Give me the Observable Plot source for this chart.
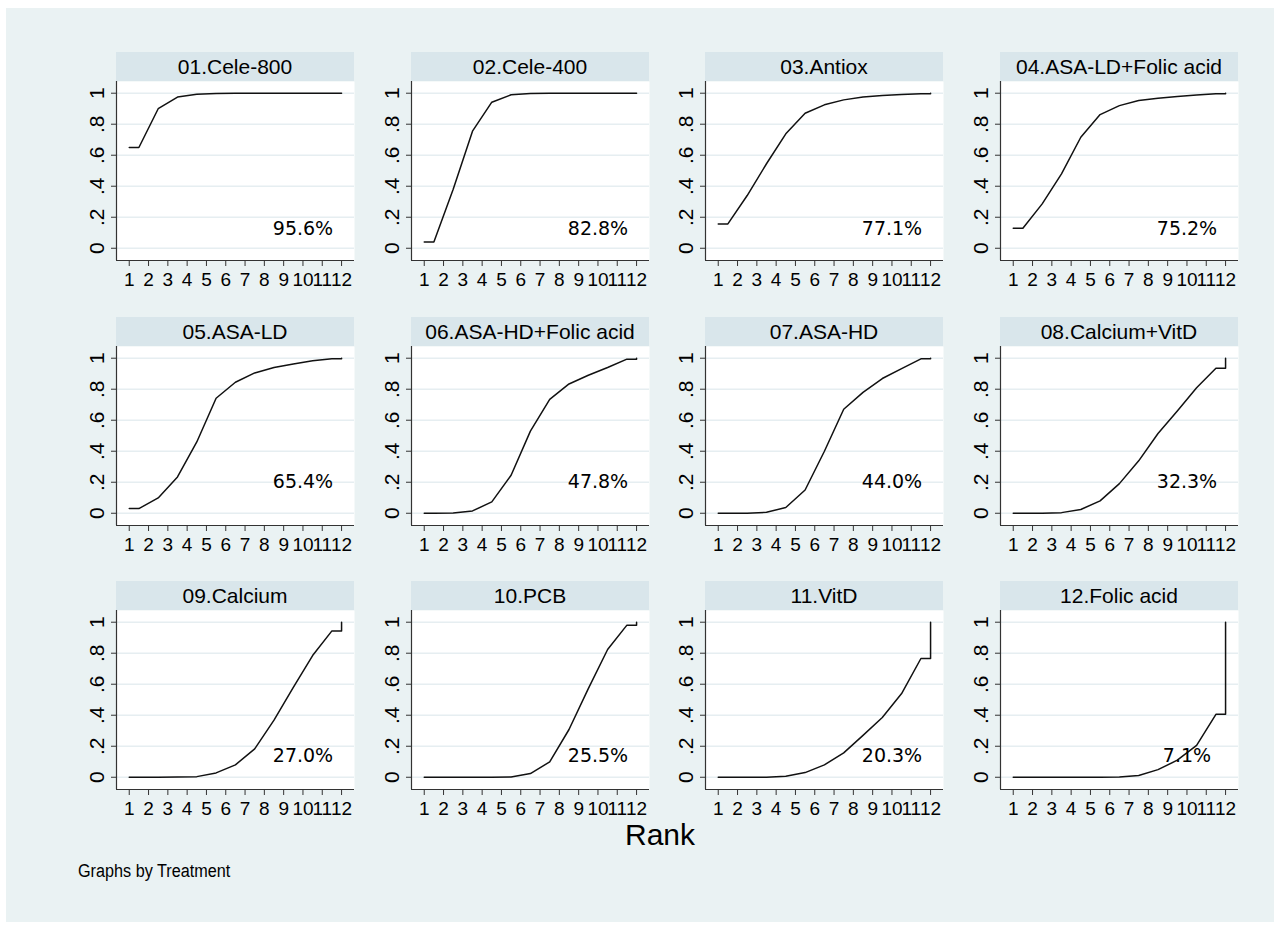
<!DOCTYPE html>
<html>
<head>
<meta charset="utf-8">
<script src="https://cdn.jsdelivr.net/npm/d3@7"></script>
<script src="https://cdn.jsdelivr.net/npm/@observablehq/plot@0.6"></script>
<style>
html, body { margin: 0; padding: 0; background: #ffffff; }
#root { position: relative; width: 1280px; height: 931px; overflow: hidden; font-family: "Liberation Sans", Arial, sans-serif; color: #000; }
#bg { position: absolute; left: 6px; top: 8px; width: 1268px; height: 914px; background: #eaf2f3; }
.strip { position: absolute; height: 29px; background: #d9e6eb; font-size: 21px; line-height: 29px; text-align: center; white-space: nowrap; }
.panel { position: absolute; }
#xlabel { position: absolute; left: 560px; width: 200px; top: 820px; text-align: center; font-size: 30px; line-height: 30px; }
#note { position: absolute; left: 78px; top: 860px; font-size: 18px; line-height: 22px; white-space: nowrap; transform: scaleX(0.9); transform-origin: left center; }
</style>
</head>
<body>
<div id="root"><div id="bg"></div></div>
<script>
// ---- data ----
const treatments = ["01.Cele-800", "02.Cele-400", "03.Antiox", "04.ASA-LD+Folic acid",
  "05.ASA-LD", "06.ASA-HD+Folic acid", "07.ASA-HD", "08.Calcium+VitD",
  "09.Calcium", "10.PCB", "11.VitD", "12.Folic acid"];
const sucra = [95.6, 82.8, 77.1, 75.2, 65.4, 47.8, 44.0, 32.3, 27.0, 25.5, 20.3, 7.1];
const ranks = [1, 2, 3, 4, 5, 6, 7, 8, 9, 10, 11, 12];
const yTicks = [0, 0.2, 0.4, 0.6, 0.8, 1];
// cumulative probability of being ranked within the first k (k = 1..12)
const cumCele800     = [0.65, 0.90, 0.975, 0.993, 0.998, 1, 1, 1, 1, 1, 1, 1];
const cumCele400     = [0.04, 0.38, 0.755, 0.942, 0.99, 0.998, 1, 1, 1, 1, 1, 1];
const cumAntiox      = [0.157, 0.34, 0.545, 0.738, 0.871, 0.925, 0.957, 0.975, 0.985, 0.992, 0.997, 1];
const cumAsaLdFolic  = [0.129, 0.286, 0.48, 0.716, 0.862, 0.92, 0.953, 0.968, 0.978, 0.988, 0.997, 1];
const cumAsaLd       = [0.03, 0.099, 0.234, 0.46, 0.742, 0.845, 0.905, 0.94, 0.963, 0.983, 0.996, 1];
const cumAsaHdFolic  = [0, 0.002, 0.015, 0.073, 0.245, 0.53, 0.735, 0.834, 0.89, 0.94, 0.994, 1];
const cumAsaHd       = [0, 0, 0.006, 0.037, 0.15, 0.40, 0.671, 0.78, 0.869, 0.933, 0.996, 1];
const cumCalciumVitD = [0, 0, 0.004, 0.024, 0.08, 0.191, 0.338, 0.514, 0.66, 0.81, 0.935, 1];
const cumCalcium     = [0, 0, 0.001, 0.004, 0.028, 0.08, 0.183, 0.368, 0.58, 0.785, 0.944, 1];
const cumPcb         = [0, 0, 0, 0, 0.002, 0.024, 0.099, 0.308, 0.572, 0.824, 0.981, 1];
const cumVitD        = [0, 0, 0, 0.006, 0.03, 0.08, 0.157, 0.27, 0.385, 0.54, 0.766, 1];
const cumFolic       = [0, 0, 0, 0, 0, 0.001, 0.011, 0.049, 0.11, 0.206, 0.406, 1];
const cumulative = [cumCele800, cumCele400, cumAntiox, cumAsaLdFolic, cumAsaLd, cumAsaHdFolic,
  cumAsaHd, cumCalciumVitD, cumCalcium, cumPcb, cumVitD, cumFolic];

// ---- layout ----
const colLeft = [116, 411, 705, 1000];
const rowStripTop = [52, 317, 581];
const stripH = 29, panelW = 238, plotH = 179;
const mL = 45, mR = 2, mT = 2, mB = 45;
const xDomain = [0.34, 12.67], yDomain = [-0.079, 1.0755];
const labelYByRow = [0.125, 0.2, 0.135];
const gridColor = "#e6eef1", axisColor = "#333";

// Stata-style path: flat first half-rank, points at rank midpoints, flat last half, jump to 1
function pathOf(c) {
  const pts = [{x: ranks[0], y: c[0]}];
  for (let k = 0; k < ranks.length - 1; k++) pts.push({x: ranks[k] + 0.5, y: c[k]});
  pts.push({x: ranks[ranks.length - 1], y: c[ranks.length - 2]});
  pts.push({x: ranks[ranks.length - 1], y: c[ranks.length - 1]});
  return pts;
}

const root = document.getElementById("root");
treatments.forEach((name, i) => {
  const col = i % 4, row = Math.floor(i / 4);
  const left = colLeft[col], stripTop = rowStripTop[row];
  const strip = document.createElement("div");
  strip.className = "strip";
  strip.style.left = left + "px";
  strip.style.top = stripTop + "px";
  strip.style.width = panelW + "px";
  strip.textContent = name;
  root.appendChild(strip);

  const svg = Plot.plot({
    width: panelW + mL + mR,
    height: plotH + mT + mB,
    marginLeft: mL, marginRight: mR, marginTop: mT, marginBottom: mB,
    x: {domain: xDomain},
    y: {domain: yDomain},
    style: {background: "transparent", fontFamily: "'Liberation Sans', Arial, sans-serif", fontSize: "19px", color: "#000", overflow: "visible"},
    marks: [
      Plot.frame({fill: "white", stroke: null}),
      Plot.ruleY(yTicks, {stroke: gridColor, strokeWidth: 1.6}),
      Plot.ruleX([xDomain[0]], {stroke: axisColor, strokeWidth: 1.2}),
      Plot.ruleY([yDomain[0]], {stroke: axisColor, strokeWidth: 1.2}),
      Plot.axisX({ticks: ranks, tickSize: 6, tickPadding: 6, tickFormat: d => String(d), label: null, stroke: axisColor, fontSize: 19}),
      Plot.axisY({ticks: yTicks, tickSize: 5, tickPadding: 8, tickRotate: -90, fontSize: 21,
        tickFormat: d => d === 0 ? "0" : d === 1 ? "1" : d3.format(".1f")(d).replace(/^0/, ""),
        label: null, stroke: axisColor}),
      Plot.line(pathOf(cumulative[i]), {x: "x", y: "y", stroke: "#111", strokeWidth: 1.5}),
      Plot.text([sucra[i].toFixed(1) + "%"], {x: 10, y: labelYByRow[row], text: d => d,
        fontFamily: "'DejaVu Sans', Verdana, sans-serif", fontSize: 19, fill: "#000"})
    ]
  });
  svg.classList.add("panel");
  svg.style.left = (left - mL) + "px";
  svg.style.top = (stripTop + stripH - mT) + "px";
  root.appendChild(svg);
});

const xl = document.createElement("div");
xl.id = "xlabel"; xl.textContent = "Rank";
root.appendChild(xl);
const note = document.createElement("div");
note.id = "note"; note.textContent = "Graphs by Treatment";
root.appendChild(note);
</script>
</body>
</html>
